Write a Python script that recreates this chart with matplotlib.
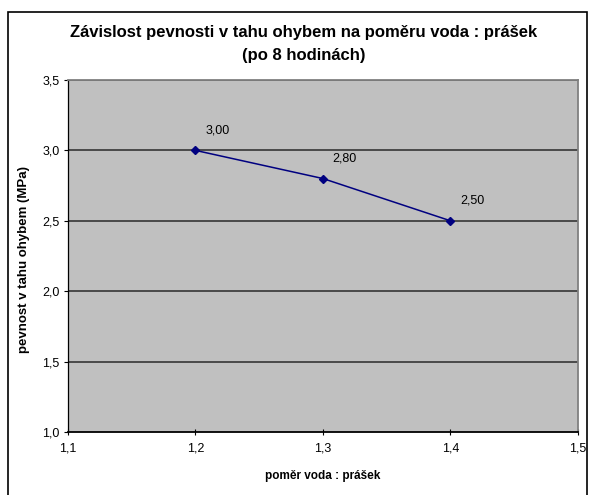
import matplotlib.pyplot as plt
from matplotlib.patches import Rectangle

# ── Data ──────────────────────────────────────────────────────────────────────
ratio    = [1.2, 1.3, 1.4]
strength = [3.00, 2.80, 2.50]
x_ticks  = [1.1, 1.2, 1.3, 1.4, 1.5]
y_ticks  = [1.0, 1.5, 2.0, 2.5, 3.0, 3.5]

TITLE  = "Závislost pevnosti v tahu ohybem na poměru voda : prášek\n(po 8 hodinách)"
XLABEL = "poměr voda : prášek"
YLABEL = "pevnost v tahu ohybem (MPa)"

NAVY = "#000080"
GREY = "#C0C0C0"


def cz(v, nd=1):
    return f"{v:.{nd}f}".replace(".", ",")


plt.rcParams["font.family"] = ["Liberation Sans", "DejaVu Sans"]

fig = plt.figure(figsize=(5.95, 4.95), dpi=100)
W, H = 595, 495

# outer chart border
fig.patches.append(Rectangle((8 / W, -0.01), 579 / W, 1 - 12 / H + 0.01,
                             transform=fig.transFigure, fill=False,
                             edgecolor="black", linewidth=1.2))

# plot area: left 68, right 578, top 80, bottom 432 (pixels)
ax = fig.add_axes([68 / W, 1 - 432 / H, 510 / W, 352 / H])
ax.set_facecolor(GREY)

ax.set_xlim(1.1, 1.5)
ax.set_ylim(1.0, 3.5)
ax.set_xticks(x_ticks)
ax.set_yticks(y_ticks)
ax.set_xticklabels([cz(v) for v in x_ticks], fontsize=9)
ax.set_yticklabels([cz(v) for v in y_ticks], fontsize=9)
ax.tick_params(axis="both", length=3, width=0.8, color="black", pad=3)
ax.tick_params(axis="x", direction="inout", length=5, pad=5)

for v in y_ticks[1:]:
    ax.axhline(v, color="#404040", linewidth=1.3, zorder=1)

for side in ["top", "right"]:
    ax.spines[side].set_color("#808080")
    ax.spines[side].set_linewidth(1.3)
ax.spines["left"].set_color("black")
ax.spines["bottom"].set_color("black")
ax.spines["left"].set_linewidth(0.9)
ax.spines["bottom"].set_linewidth(1.3)

ax.plot(ratio, strength, color=NAVY, linewidth=1.1, marker="D",
        markersize=4.5, markerfacecolor=NAVY, markeredgecolor=NAVY, zorder=3)

for x, y in zip(ratio, strength):
    ax.annotate(cz(y, 2), (x, y), xytext=(7, 10), textcoords="offset points",
                fontsize=9, ha="left", va="bottom")

ax.set_xlabel(XLABEL, fontsize=8.5, fontweight="bold", labelpad=11)
ax.set_ylabel(YLABEL, fontsize=9.5, fontweight="bold", labelpad=6)
ax.yaxis.set_label_coords(-0.075, 0.49)

fig.text(304 / W, 1 - 44 / H, TITLE, ha="center", va="center",
         fontsize=12, fontweight="bold", linespacing=1.7)

fig.savefig("out.png", dpi=100)
